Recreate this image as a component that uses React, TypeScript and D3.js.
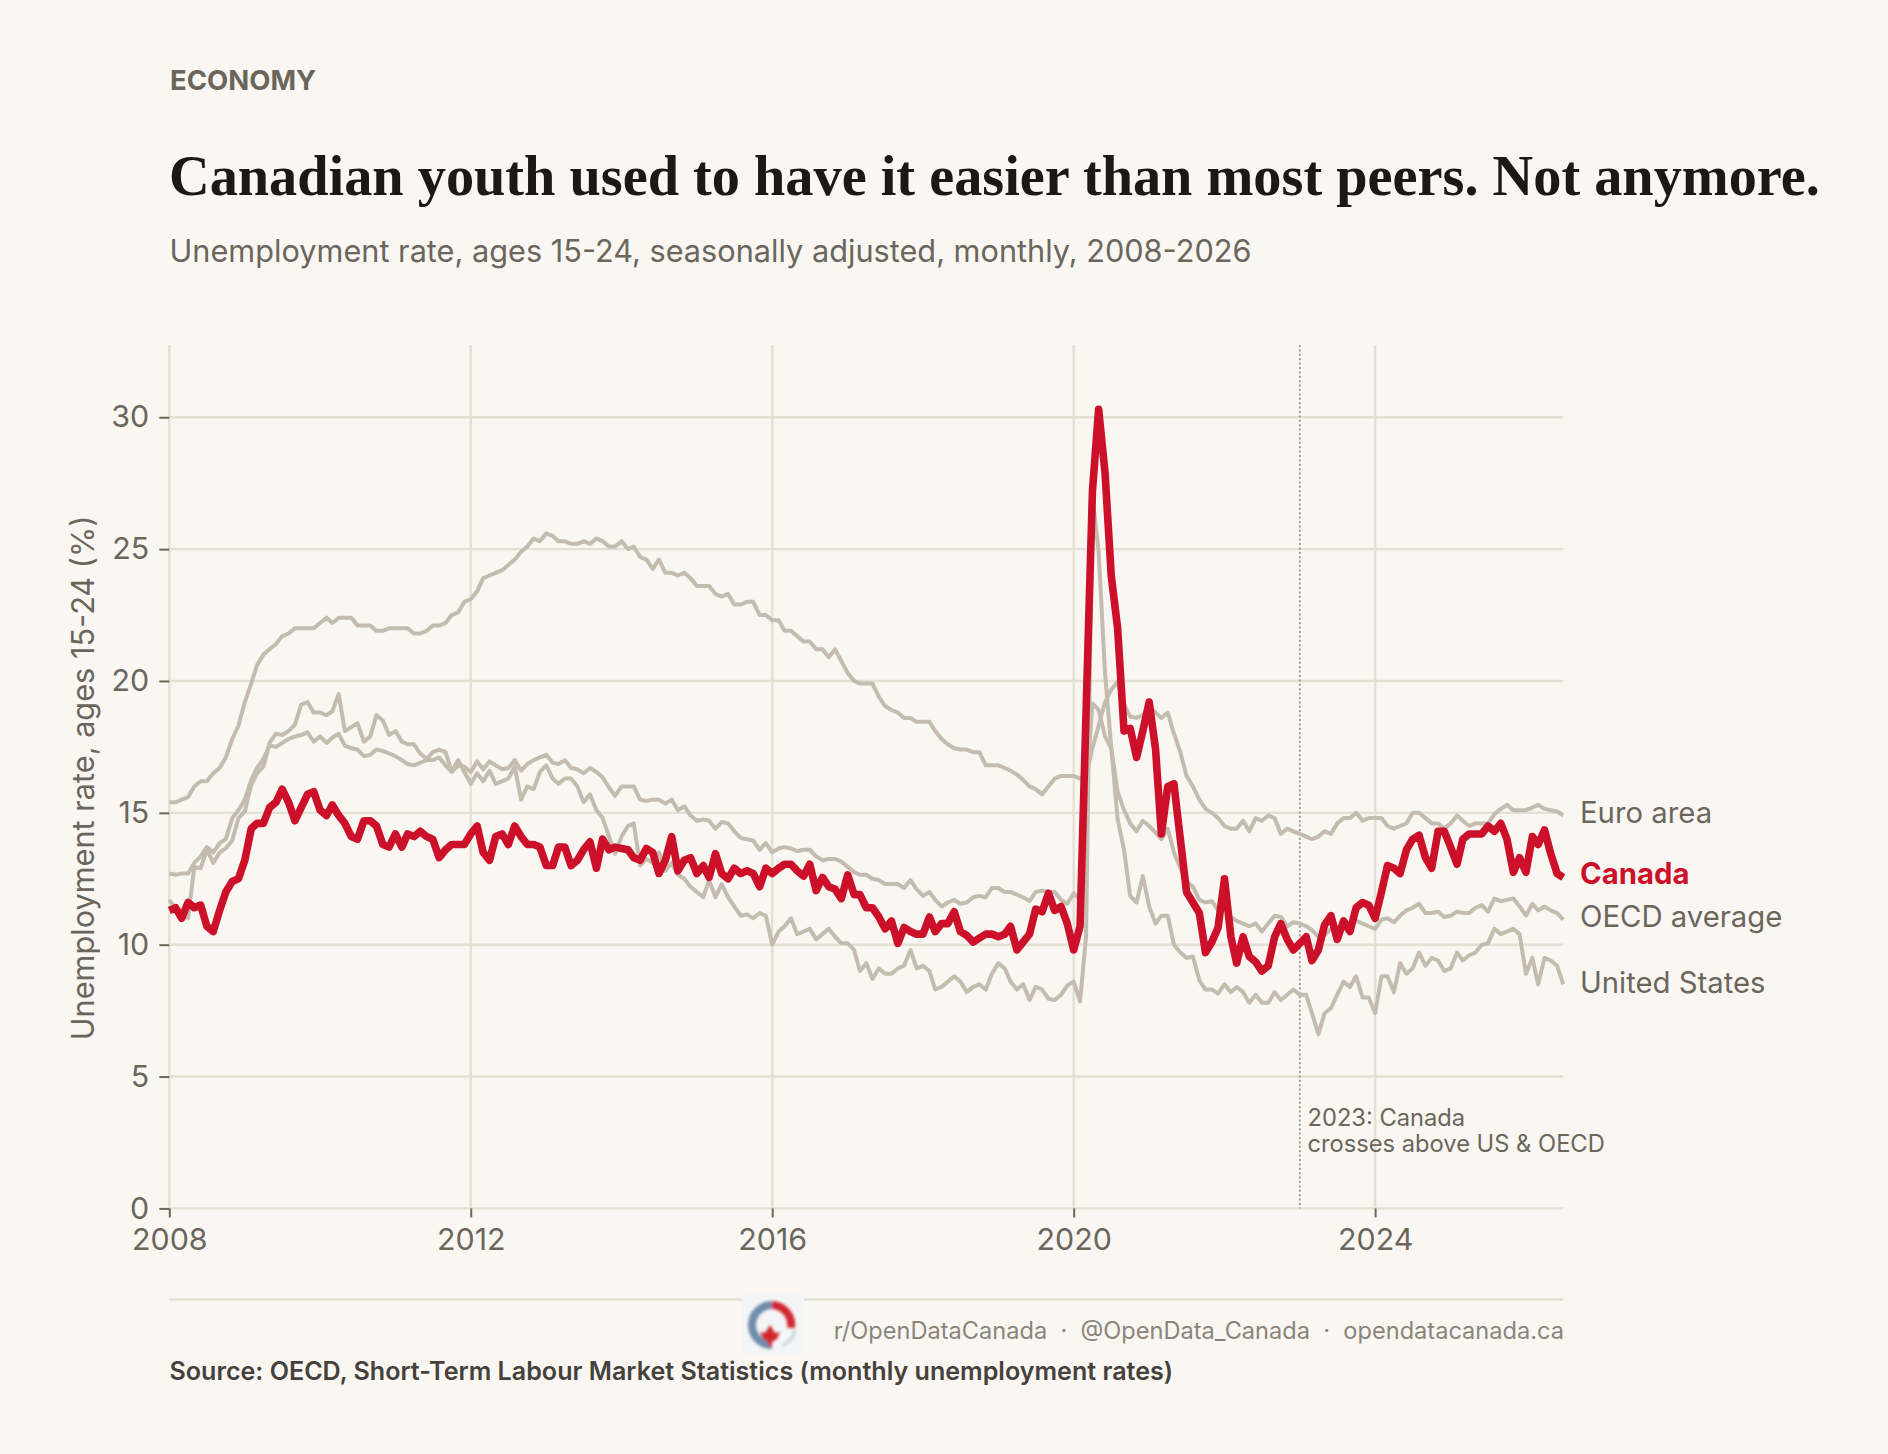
import React, { useEffect, useRef } from 'react';
import * as d3 from 'd3';

// monthly values, Jan 2008 to Jul 2026, one row per year
const canada = [
  11.3, 11.4, 11.0, 11.6, 11.4, 11.5, 10.7, 10.5, 11.3, 12.0, 12.4, 12.5,
  13.2, 14.4, 14.6, 14.6, 15.2, 15.4, 15.9, 15.4, 14.7, 15.2, 15.7, 15.8,
  15.1, 14.9, 15.3, 14.9, 14.6, 14.1, 14.0, 14.7, 14.7, 14.5, 13.8, 13.7,
  14.2, 13.7, 14.2, 14.1, 14.3, 14.1, 14.0, 13.3, 13.6, 13.8, 13.8, 13.8,
  14.2, 14.5, 13.5, 13.2, 14.1, 14.2, 13.8, 14.5, 14.1, 13.8, 13.8, 13.7,
  13.0, 13.0, 13.7, 13.7, 13.0, 13.2, 13.6, 13.9, 12.9, 14.0, 13.6, 13.7,
  13.65, 13.6, 13.3, 13.2, 13.65, 13.5, 12.7, 13.2, 14.1, 12.8, 13.2, 13.3,
  12.7, 13.0, 12.55, 13.45, 12.7, 12.5, 12.9, 12.7, 12.8, 12.7, 12.2, 12.9,
  12.7, 12.9, 13.05, 13.05, 12.8, 12.6, 13.05, 12.05, 12.55, 12.2, 12.1, 11.75,
  12.65, 11.9, 11.9, 11.4, 11.4, 11.05, 10.6, 10.9, 10.05, 10.65, 10.5, 10.4,
  10.4, 11.05, 10.5, 10.8, 10.8, 11.25, 10.5, 10.35, 10.1, 10.25, 10.4, 10.4,
  10.3, 10.4, 10.7, 9.8, 10.1, 10.4, 11.35, 11.25, 11.95, 11.3, 11.45, 10.8,
  9.8, 10.7, 18.8, 27.2, 30.3, 27.9, 24.0, 22.0, 18.1, 18.2, 17.1, 18.1,
  19.2, 17.4, 14.2, 16.0, 16.1, 14.0, 12.0, 11.6, 11.2, 9.7, 10.1, 10.65,
  12.5, 10.3, 9.3, 10.3, 9.55, 9.35, 9.0, 9.2, 10.3, 10.8, 10.2, 9.8,
  10.05, 10.3, 9.4, 9.8, 10.75, 11.1, 10.2, 10.9, 10.5, 11.4, 11.6, 11.5,
  11.0, 12.0, 13.0, 12.9, 12.7, 13.6, 14.0, 14.15, 13.3, 12.9, 14.3, 14.3,
  13.7, 13.05, 14.0, 14.2, 14.2, 14.2, 14.5, 14.3, 14.6, 14.0, 12.75, 13.3,
  12.75, 14.1, 13.8, 14.35, 13.45, 12.7, 12.55,
];

const euroArea = [
  15.4, 15.4, 15.5, 15.6, 16.0, 16.2, 16.2, 16.5, 16.7, 17.1, 17.8, 18.3,
  19.2, 19.9, 20.6, 21.0, 21.2, 21.4, 21.7, 21.8, 22.0, 22.0, 22.0, 22.0,
  22.2, 22.4, 22.2, 22.4, 22.4, 22.4, 22.1, 22.1, 22.1, 21.9, 21.9, 22.0,
  22.0, 22.0, 22.0, 21.8, 21.8, 21.9, 22.1, 22.1, 22.2, 22.5, 22.6, 23.0,
  23.1, 23.4, 23.9, 24.0, 24.1, 24.2, 24.4, 24.6, 24.9, 25.1, 25.4, 25.3,
  25.6, 25.5, 25.3, 25.3, 25.2, 25.2, 25.3, 25.2, 25.4, 25.3, 25.1, 25.1,
  25.3, 25.0, 25.1, 24.7, 24.6, 24.25, 24.6, 24.1, 24.1, 24.0, 24.1, 23.9,
  23.6, 23.6, 23.6, 23.3, 23.2, 23.3, 22.9, 22.9, 23.0, 23.0, 22.5, 22.5,
  22.3, 22.3, 21.9, 21.9, 21.7, 21.5, 21.5, 21.2, 21.2, 20.9, 21.2, 20.75,
  20.3, 20.0, 19.9, 19.9, 19.9, 19.4, 19.05, 18.9, 18.8, 18.6, 18.6, 18.45,
  18.45, 18.45, 18.1, 17.8, 17.6, 17.45, 17.4, 17.4, 17.3, 17.3, 16.8, 16.8,
  16.8, 16.7, 16.6, 16.45, 16.25, 16.0, 15.9, 15.7, 16.0, 16.3, 16.4, 16.4,
  16.4, 16.3, 16.4, 17.45, 18.3, 19.2, 19.67, 19.97, 19.1, 18.65, 18.6, 18.7,
  19.0, 18.8, 18.6, 18.8, 18.0, 17.3, 16.4, 16.0, 15.5, 15.15, 15.0, 14.8,
  14.5, 14.4, 14.4, 14.7, 14.3, 14.8, 14.7, 14.9, 14.8, 14.2, 14.4, 14.3,
  14.2, 14.1, 14.0, 14.1, 14.3, 14.2, 14.6, 14.8, 14.8, 15.0, 14.7, 14.8,
  14.8, 14.8, 14.5, 14.4, 14.5, 14.6, 15.0, 15.0, 14.8, 14.6, 14.6, 14.4,
  14.6, 14.9, 14.7, 14.5, 14.6, 14.6, 14.6, 14.95, 15.15, 15.3, 15.1, 15.1,
  15.1, 15.2, 15.3, 15.15, 15.1, 15.05, 14.9,
];

const oecdAverage = [
  12.7, 12.65, 12.7, 12.7, 13.1, 13.35, 13.7, 13.5, 13.85, 14.0, 14.8, 15.1,
  15.5, 16.25, 16.7, 17.05, 17.55, 17.5, 17.65, 17.8, 17.9, 17.95, 18.05, 17.7,
  17.9, 17.65, 17.85, 18.0, 17.55, 17.45, 17.4, 17.15, 17.2, 17.4, 17.35, 17.25,
  17.15, 17.0, 16.85, 16.8, 16.9, 17.0, 17.0, 17.1, 16.8, 16.55, 16.8, 16.75,
  16.55, 16.95, 16.65, 16.95, 16.8, 16.65, 16.7, 17.0, 16.6, 16.85, 17.0, 17.1,
  17.2, 16.9, 16.85, 17.0, 16.7, 16.65, 16.5, 16.7, 16.55, 16.35, 15.95, 15.65,
  16.0, 16.0, 16.0, 15.5, 15.45, 15.5, 15.5, 15.35, 15.5, 15.1, 15.25, 14.9,
  14.7, 14.75, 14.7, 14.4, 14.65, 14.6, 14.3, 14.05, 14.0, 13.95, 13.6, 13.85,
  13.5, 13.65, 13.7, 13.65, 13.55, 13.6, 13.6, 13.35, 13.2, 13.25, 13.25, 13.15,
  12.95, 12.75, 12.65, 12.65, 12.5, 12.45, 12.3, 12.3, 12.3, 12.15, 12.45, 12.1,
  11.85, 12.0, 11.7, 11.45, 11.6, 11.7, 11.55, 11.6, 11.8, 11.85, 11.8, 12.15,
  12.15, 12.0, 12.0, 11.9, 11.8, 11.65, 12.0, 12.05, 12.0, 12.0, 11.7, 11.55,
  11.95, 11.7, 15.7, 19.15, 18.9, 17.9, 17.45, 15.8, 15.1, 14.6, 14.3, 14.7,
  14.5, 14.25, 14.0, 14.4, 13.5, 12.9, 12.4, 12.2, 11.7, 11.6, 11.65, 11.3,
  11.4, 11.05, 10.9, 10.8, 10.7, 10.8, 10.5, 10.8, 11.1, 11.05, 10.7, 10.85,
  10.8, 10.7, 10.55, 10.3, 10.35, 10.6, 10.55, 10.75, 10.8, 10.9, 10.8, 10.7,
  10.6, 10.95, 11.0, 10.85, 11.1, 11.3, 11.4, 11.55, 11.2, 11.2, 11.25, 11.05,
  11.1, 11.25, 11.2, 11.2, 11.4, 11.5, 11.25, 11.75, 11.65, 11.7, 11.75, 11.45,
  11.1, 11.55, 11.3, 11.45, 11.3, 11.2, 10.95,
];

const unitedStates = [
  11.7, 11.35, 11.2, 11.0, 12.95, 12.9, 13.6, 13.1, 13.5, 13.65, 13.95, 14.8,
  15.05, 16.05, 16.5, 16.75, 17.65, 18.0, 17.95, 18.1, 18.35, 19.1, 19.2, 18.8,
  18.8, 18.7, 18.85, 19.5, 18.1, 18.25, 18.4, 17.7, 17.9, 18.7, 18.5, 17.95,
  18.1, 17.7, 17.6, 17.6, 17.25, 17.05, 17.3, 17.4, 17.3, 16.55, 17.0, 16.55,
  16.1, 16.5, 16.2, 16.6, 16.1, 16.2, 16.3, 16.75, 15.5, 16.0, 15.9, 16.55,
  16.8, 16.3, 16.1, 16.3, 16.3, 16.0, 15.4, 15.7, 15.1, 14.8, 14.1, 13.45,
  14.1, 14.5, 14.6, 13.0, 13.25, 13.1, 13.5, 12.8, 13.1, 12.65, 12.5, 12.2,
  12.0, 11.8, 12.45, 11.8, 12.3, 11.8, 11.45, 11.1, 11.15, 11.0, 11.2, 11.1,
  10.0, 10.5, 10.7, 11.0, 10.4, 10.5, 10.6, 10.2, 10.4, 10.6, 10.3, 10.05,
  10.05, 9.8, 9.0, 9.3, 8.7, 9.1, 8.9, 8.9, 9.1, 9.2, 9.8, 9.1,
  9.2, 9.0, 8.3, 8.4, 8.6, 8.8, 8.6, 8.2, 8.4, 8.5, 8.3, 8.9,
  9.3, 9.1, 8.6, 8.3, 8.5, 7.9, 8.4, 8.3, 7.95, 7.9, 8.1, 8.45,
  8.6, 7.85, 10.3, 27.0, 24.9, 20.3, 17.5, 14.75, 13.6, 11.85, 11.6, 12.6,
  11.45, 10.8, 11.1, 11.1, 10.0, 9.7, 9.5, 9.55, 8.65, 8.3, 8.3, 8.15,
  8.5, 8.2, 8.4, 8.2, 7.8, 8.1, 7.8, 7.8, 8.2, 7.9, 8.1, 8.3,
  8.1, 8.1, 7.4, 6.6, 7.4, 7.6, 8.1, 8.6, 8.4, 8.8, 8.0, 8.0,
  7.4, 8.8, 8.8, 8.2, 9.3, 8.9, 9.1, 9.7, 9.2, 9.5, 9.4, 9.0,
  9.1, 9.7, 9.4, 9.6, 9.7, 10.0, 10.05, 10.6, 10.4, 10.5, 10.6, 10.4,
  8.9, 9.5, 8.5, 9.5, 9.4, 9.2, 8.5,
];

const yTicks = [0, 5, 10, 15, 20, 25, 30];
const xTickYears = [2008, 2012, 2016, 2020, 2024];
const greySeries = [euroArea, oecdAverage, unitedStates];
const endLabels = [
  { name: 'Euro area', y: 823, color: '#6b665c', bold: false },
  { name: 'Canada', y: 884, color: '#cc1029', bold: true },
  { name: 'OECD average', y: 927, color: '#6b665c', bold: false },
  { name: 'United States', y: 993, color: '#6b665c', bold: false },
];

const BG = '#faf7f2';
const GRID = '#e4e0d4';
const INK = '#6b665c';
const SANS = 'Inter, sans-serif';

const left = 169.3;
const right = 1563.3;
const top = 345;
const bottom = 1208.4;

const monthDate = (i: number) => new Date(2008, i, 1);

const App = () => {
  const xAxisRef = useRef<SVGGElement>(null);
  const yAxisRef = useRef<SVGGElement>(null);

  const x = d3
    .scaleTime()
    .domain([monthDate(0), monthDate(canada.length - 1)])
    .range([left, right]);
  const y = d3.scaleLinear().domain([0, 32.74]).range([bottom, top]);

  const line = d3
    .line<number>()
    .x((_, i) => x(monthDate(i)))
    .y((d) => y(d));

  useEffect(() => {
    const styleAxis = (g: d3.Selection<SVGGElement, unknown, null, undefined>) => {
      g.select('.domain').remove();
      g.selectAll('line').attr('stroke', INK).attr('stroke-width', 2);
      g.selectAll('text')
        .attr('fill', INK)
        .style('font-family', SANS)
        .style('font-size', '30.4px');
    };

    const xAxis = d3
      .axisBottom(x)
      .tickValues(xTickYears.map((yr) => new Date(yr, 0, 1)))
      .tickFormat((d) => d3.timeFormat('%Y')(d as Date))
      .tickSize(9)
      .tickPadding(11);
    d3.select(xAxisRef.current!).call(xAxis).call(styleAxis);

    const yAxis = d3.axisLeft(y).tickValues(yTicks).tickSize(10).tickPadding(10);
    d3.select(yAxisRef.current!).call(yAxis).call(styleAxis);
  }, []);

  return (
    <svg
      width={1888}
      height={1454}
      style={{ position: 'absolute', left: 0, top: 0, background: BG }}
    >
      <text x={170} y={90} fill={INK} fontFamily={SANS} fontWeight={700} fontSize={27.5}>
        ECONOMY
      </text>
      <text
        x={169}
        y={195}
        fill="#1c1814"
        fontFamily="'Liberation Serif', serif"
        fontWeight={700}
        fontSize={56.3}
      >
        Canadian youth used to have it easier than most peers. Not anymore.
      </text>
      <text x={169.5} y={261.5} fill={INK} fontFamily={SANS} fontSize={30.7}>
        Unemployment rate, ages 15-24, seasonally adjusted, monthly, 2008-2026
      </text>

      {yTicks.map((t) => (
        <line key={t} x1={left} x2={right} y1={y(t)} y2={y(t)} stroke={GRID} strokeWidth={2.4} />
      ))}
      {xTickYears.map((yr) => (
        <line
          key={yr}
          x1={x(new Date(yr, 0, 1))}
          x2={x(new Date(yr, 0, 1))}
          y1={top}
          y2={bottom}
          stroke={GRID}
          strokeWidth={2.4}
        />
      ))}

      <line
        x1={x(new Date(2023, 0, 1))}
        x2={x(new Date(2023, 0, 1))}
        y1={top}
        y2={bottom}
        stroke="#9a958a"
        strokeWidth={1.8}
        strokeDasharray="2 2.4"
      />

      {greySeries.map((s, i) => (
        <path
          key={i}
          d={line(s) ?? undefined}
          fill="none"
          stroke="#c4bcae"
          strokeWidth={4}
          strokeLinejoin="round"
        />
      ))}
      <path
        d={line(canada) ?? undefined}
        fill="none"
        stroke="#cc1029"
        strokeWidth={7.6}
        strokeLinejoin="round"
      />

      <g ref={xAxisRef} transform={`translate(0,${bottom})`} />
      <g ref={yAxisRef} transform={`translate(${left},0)`} />

      <text
        transform="translate(94,778) rotate(-90)"
        textAnchor="middle"
        fill={INK}
        fontFamily={SANS}
        fontSize={30.7}
      >
        Unemployment rate, ages 15-24 (%)
      </text>

      {endLabels.map((d) => (
        <text
          key={d.name}
          x={1580}
          y={d.y}
          fill={d.color}
          fontFamily={SANS}
          fontWeight={d.bold ? 700 : 400}
          fontSize={29.3}
        >
          {d.name}
        </text>
      ))}

      <text fill={INK} fontFamily={SANS} fontSize={23.7}>
        <tspan x={1307.5} y={1126}>2023: Canada</tspan>
        <tspan x={1307.5} y={1152}>crosses above US &amp; OECD</tspan>
      </text>

      <line x1={left} x2={right} y1={1299.5} y2={1299.5} stroke={GRID} strokeWidth={2.4} />

      {/* logo, the original is a small blurry raster */}
      <defs>
        <filter id="soft" x="-20%" y="-20%" width="140%" height="140%">
          <feGaussianBlur stdDeviation="1.5" />
        </filter>
      </defs>
      <rect x={742} y={1293} width={62} height={62} fill="#f4f5f6" />
      <g filter="url(#soft)" fill="none" strokeWidth={8}>
        <path d="M772 1305 A20 20 0 0 0 772 1345" stroke="#6f8cab" />
        <path d="M772 1305 A20 20 0 0 1 791 1328" stroke="#d0262f" />
        <path d="M795 1330 A23 23 0 0 1 782 1346" stroke="#ccd2da" strokeWidth={3} />
        <path d="M770 1325 L765 1333 L760 1332 L763 1339 L768 1342 L768 1346 L772 1346 L772 1342 L777 1339 L780 1332 L775 1333 Z" fill="#d0262f" stroke="none" />
      </g>

      <text
        x={1564}
        y={1338.5}
        textAnchor="end"
        fill="#8a857a"
        fontFamily={SANS}
        fontSize={23.6}
        xmlSpace="preserve"
      >
        r/OpenDataCanada  ·  @OpenData_Canada  ·  opendatacanada.ca
      </text>
      <text x={169.5} y={1380} fill="#45413b" fontFamily={SANS} fontWeight={600} fontSize={25.1}>
        Source: OECD, Short-Term Labour Market Statistics (monthly unemployment rates)
      </text>
    </svg>
  );
};

export default App;
